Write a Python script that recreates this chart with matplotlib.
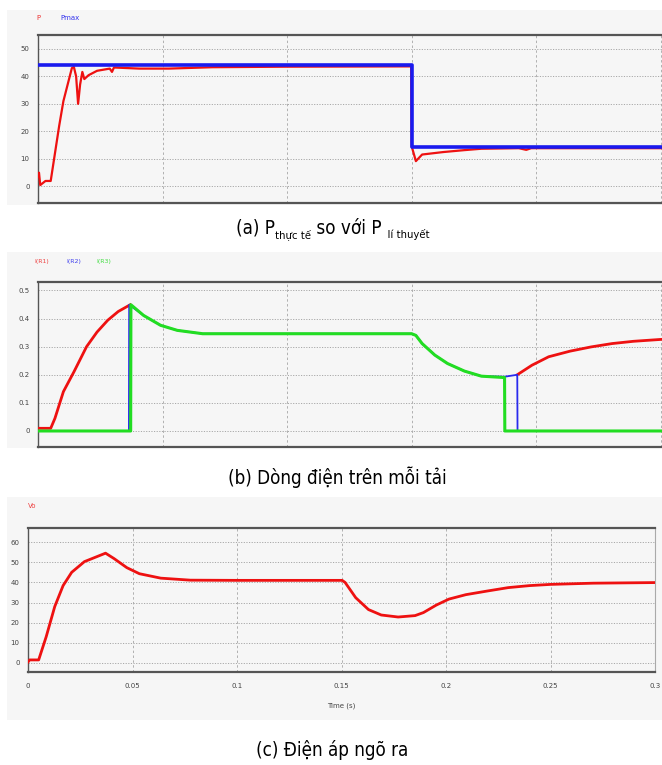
import matplotlib
matplotlib.use("Agg")
import matplotlib.pyplot as plt
from matplotlib.patches import Rectangle

W, H = 662, 765
NAN = float("nan")

# (a) power: measured P vs Pmax
t_p = [0, 0.0004, 0.0009, 0.003, 0.0051, 0.0068, 0.0085, 0.0102, 0.0119, 0.0136, 0.0144,
       0.0153, 0.0161, 0.0169, 0.0178, 0.0186, 0.0203, 0.0237, 0.0288, 0.0297, 0.0305,
       0.0407, 0.0525, 0.07, 0.1, 0.1498, 0.15, 0.1517, 0.1542, 0.1627, 0.1712, 0.178,
       0.193, 0.196, 0.198, 0.22, 0.2505]
p_val = [3.5, 5.0, 0.5, 2.0, 2.0, 12.0, 22.0, 31.0, 37.0, 43.0, 43.4,
         40.0, 30.0, 37.0, 41.6, 39.0, 40.4, 42.0, 42.8, 41.6, 43.2,
         42.8, 42.8, 43.3, 43.5, 43.6, 14.6, 9.2, 11.6, 12.5, 13.2, 13.7,
         13.9, 13.3, 13.9, 13.9, 13.9]
t_pmax = [0, 0.15, 0.15, 0.2505]
pmax_val = [44.0, 44.0, 14.3, 14.3]

# (b) load currents (gap where I(R1) is switched off)
t_r1 = [0, 0.0051, 0.0068, 0.0102, 0.0144, 0.0195, 0.0237, 0.028, 0.0322, 0.037, 0.1,
        0.1924, 0.1983, 0.205, 0.2136, 0.222, 0.2305, 0.239, 0.2505]
i_r1 = [0.0095, 0.0095, 0.045, 0.14, 0.21, 0.30, 0.352, 0.394, 0.425, 0.449, NAN,
        0.2, 0.234, 0.264, 0.284, 0.299, 0.311, 0.319, 0.326]
t_r2 = [0, 0.0365, 0.0366, 0.0424, 0.0492, 0.0559, 0.0661, 0.15, 0.1517, 0.1542, 0.1593,
        0.1644, 0.1712, 0.178, 0.1873, 0.1924, 0.1925, 0.2505]
i_r2 = [0.0, 0.0, 0.449, 0.411, 0.376, 0.358, 0.346, 0.346, 0.34, 0.311, 0.27,
        0.24, 0.213, 0.195, 0.193, 0.2, 0.0, 0.0]
t_r3 = [0, 0.0372, 0.0373, 0.0424, 0.0492, 0.0559, 0.0661, 0.15, 0.1517, 0.1542, 0.1593,
        0.1644, 0.1712, 0.178, 0.1873, 0.1874, 0.2505]
i_r3 = [0.0, 0.0, 0.449, 0.411, 0.376, 0.358, 0.346, 0.346, 0.34, 0.311, 0.27,
        0.24, 0.213, 0.195, 0.19, 0.0, 0.0]

# (c) output voltage
t_vo = [0, 0.0008, 0.0051, 0.0087, 0.0128, 0.0168, 0.0209, 0.027, 0.0371, 0.0412, 0.0473,
        0.0533, 0.0635, 0.0777, 0.1, 0.1503, 0.1517, 0.1568, 0.1629, 0.169, 0.1771,
        0.1852, 0.1892, 0.1953, 0.2014, 0.2095, 0.2197, 0.2298, 0.24, 0.2501, 0.2704, 0.2998]
vo = [0.5, 1.5, 1.5, 13.0, 28.0, 38.4, 45.0, 50.3, 54.5, 51.8, 47.3,
      44.3, 42.1, 41.1, 41.0, 41.0, 40.0, 32.4, 26.5, 23.8, 22.8,
      23.5, 25.0, 28.7, 31.7, 33.9, 35.7, 37.4, 38.4, 39.0, 39.6, 39.9]

x_ticks = [0, 0.05, 0.1, 0.15, 0.2, 0.25, 0.3]
x_ticklabels = ["0", "0.05", "0.1", "0.15", "0.2", "0.25", "0.3"]

BG = "#f6f6f6"

fig = plt.figure(figsize=(W / 100, H / 100), dpi=100)


def box(x0, y0, x1, y1):
    return [x0 / W, 1 - y1 / H, (x1 - x0) / W, (y1 - y0) / H]


def panel_bg(x0, y0, x1, y1):
    fig.patches.append(Rectangle((x0 / W, 1 - y1 / H), (x1 - x0) / W, (y1 - y0) / H,
                                 transform=fig.transFigure, facecolor=BG,
                                 edgecolor="none", zorder=-5))


def style(ax, right_spine=False):
    ax.set_zorder(2)
    ax.set_facecolor(BG)
    ax.grid(True, axis="y", color="#a8a8a8", linestyle=(0, (1.2, 1.5)), linewidth=0.7)
    ax.grid(True, axis="x", color="#b0b0b0", linestyle=(0, (2.5, 2.5)), linewidth=0.7)
    for s in ("top", "bottom"):
        ax.spines[s].set_color("#555555")
        ax.spines[s].set_linewidth(1.6)
    ax.spines["left"].set_color("#555555")
    ax.spines["left"].set_linewidth(1.0)
    ax.spines["right"].set_visible(right_spine)
    ax.spines["right"].set_color("#aaaaaa")
    ax.tick_params(length=0, labelsize=5, colors="#444444", pad=6)


# ---- panel (a)
panel_bg(7, 10, 662, 205)
ax1 = fig.add_axes(box(38, 35, 662, 203))
ax1.plot(t_p, p_val, color="#ee1111", lw=1.6, zorder=3)
ax1.plot(t_pmax, pmax_val, color="#1a1aee", lw=2.6, zorder=4)
ax1.set_xlim(0, 0.2505)
ax1.set_ylim(-6, 55)
ax1.set_yticks([0, 10, 20, 30, 40, 50])
ax1.set_xticks(x_ticks[:6])
ax1.set_xticklabels([])
style(ax1)
fig.text(38 / W, 1 - 18 / H, "P", color="#ee3333", fontsize=5, ha="center", va="center")
fig.text(60 / W, 1 - 18 / H, "Pmax", color="#3333ee", fontsize=5, ha="left", va="center")

# ---- panel (b)
panel_bg(7, 252, 662, 448)
ax2 = fig.add_axes(box(38, 282, 662, 447))
ax2.plot(t_r1, i_r1, color="#ee1111", lw=2.0, zorder=3)
ax2.plot(t_r2, i_r2, color="#2a2aee", lw=1.3, zorder=4)
ax2.plot(t_r3, i_r3, color="#22dd22", lw=2.2, zorder=5)
ax2.set_xlim(0, 0.2505)
ax2.set_ylim(-0.057, 0.53)
ax2.set_yticks([0, 0.1, 0.2, 0.3, 0.4, 0.5])
ax2.set_yticklabels(["0", "0.1", "0.2", "0.3", "0.4", "0.5"])
ax2.set_xticks(x_ticks[:6])
ax2.set_xticklabels([])
style(ax2)
fig.text(42 / W, 1 - 262 / H, "I(R1)", color="#ee4444", fontsize=4.5, ha="center", va="center")
fig.text(74 / W, 1 - 262 / H, "I(R2)", color="#4444ee", fontsize=4.5, ha="center", va="center")
fig.text(104 / W, 1 - 262 / H, "I(R3)", color="#44dd44", fontsize=4.5, ha="center", va="center")

# ---- panel (c)
panel_bg(7, 497, 662, 720)
ax3 = fig.add_axes(box(28, 528, 655, 672))
ax3.plot(t_vo, vo, color="#ee1111", lw=2.0, zorder=3)
ax3.set_xlim(0, 0.3)
ax3.set_ylim(-4.5, 67)
ax3.set_yticks([0, 10, 20, 30, 40, 50, 60])
ax3.set_xticks(x_ticks)
ax3.set_xticklabels(x_ticklabels)
style(ax3, right_spine=True)
ax3.tick_params(axis="x", pad=8)
fig.text(341 / W, 1 - 706 / H, "Time (s)", color="#444444", fontsize=5, ha="center", va="center")
fig.text(32 / W, 1 - 506 / H, "Vo", color="#ee4444", fontsize=5, ha="center", va="center")

# ---- captions
cap_size = 13.5
fig.canvas.draw()
renderer = fig.canvas.get_renderer()


def caption_parts(parts, cx, cy):
    # parts: list of (text, is_subscript)
    texts = []
    for s, sub in parts:
        size = cap_size * 0.6 if sub else cap_size
        t = fig.text(0, 0, s, fontsize=size, family="DejaVu Sans", stretch="condensed",
                     ha="left", va="baseline")
        texts.append((t, sub))
    widths = [t.get_window_extent(renderer).width for t, _ in texts]
    x = cx - sum(widths) / 2
    for (t, sub), w in zip(texts, widths):
        y = cy + (4 if sub else 0)
        t.set_position((x / W, 1 - y / H))
        x += w


caption_parts([("(a) P", False), ("thực tế", True), (" so với P", False),
               ("  lí thuyết", True)], 333, 234)
caption_parts([("(b) Dòng điện trên mỗi tải", False)], 337, 484)
caption_parts([("(c) Điện áp ngõ ra", False)], 332, 756)

fig.savefig("out.png", dpi=100, facecolor="white")
